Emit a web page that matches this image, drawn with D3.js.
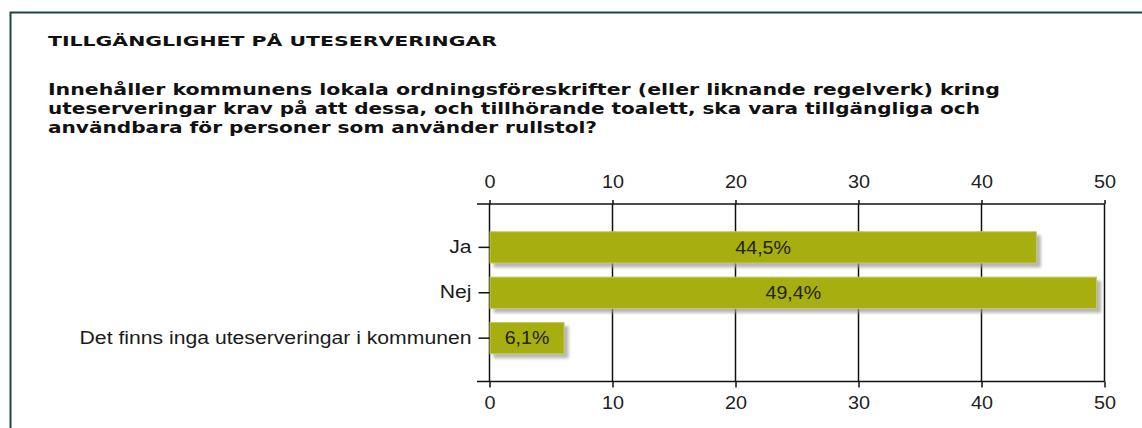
<!DOCTYPE html>
<html><head><meta charset="utf-8">
<script src="https://cdn.jsdelivr.net/npm/d3@7"></script>
<style>body{margin:0;background:#fff;}svg{display:block;}</style>
</head><body>
<svg id="c" width="1142" height="428"></svg>
<script>
const categories = ["Ja", "Nej", "Det finns inga uteserveringar i kommunen"];
const values = [44.5, 49.4, 6.1];
const valueLabels = ["44,5%", "49,4%", "6,1%"];
const tickValues = [0, 10, 20, 30, 40, 50];
const heading = "TILLGÄNGLIGHET PÅ UTESERVERINGAR";
const questionLines = [
  "Innehåller kommunens lokala ordningsföreskrifter (eller liknande regelverk) kring",
  "uteserveringar krav på att dessa, och tillhörande toalett, ska vara tillgängliga och",
  "användbara för personer som använder rullstol?"
];

const svg = d3.select("#c");
const defs = svg.append("defs");
const f = defs.append("filter").attr("id","sh").attr("x","-10%").attr("y","-30%").attr("width","130%").attr("height","180%");
f.append("feGaussianBlur").attr("stdDeviation",1.6);

// frame
svg.append("path").attr("d","M10.5,428 V12.5 H1142").attr("fill","none").attr("stroke","#1e4640").attr("stroke-width",2);

const tf = "Tahoma, 'DejaVu Sans Condensed', 'DejaVu Sans', sans-serif";
svg.append("text").attr("x",48).attr("y",46).attr("font-family",tf).attr("font-weight","bold")
  .attr("font-size",14).attr("fill","#111").text(heading)
  .attr("textLength",449).attr("lengthAdjust","spacingAndGlyphs");
const qWidths = [952, 932, 549];
questionLines.forEach((l,i)=>{
  svg.append("text").attr("x",48).attr("y",95+i*19).attr("font-family",tf).attr("font-weight","bold")
    .attr("font-size",15.5).attr("fill","#111").text(l)
    .attr("textLength",qWidths[i]).attr("lengthAdjust","spacingAndGlyphs");
});

const yTop = 204, yBot = 381.5;
const x = d3.scaleLinear().domain([0,50]).range([489.5,1104.5]);
const y = d3.scaleBand().domain(categories).range([yTop,yBot]).paddingInner(0.29).paddingOuter(0.6);
const af = "Arial, 'Liberation Sans', sans-serif";
function stretch(sel, k){
  sel.each(function(){
    const w = this.getComputedTextLength();
    d3.select(this).attr("textLength", w*k).attr("lengthAdjust","spacingAndGlyphs");
  });
}

// gridlines
svg.append("g").selectAll("line").data(tickValues).join("line")
  .attr("x1",d=>x(d)).attr("x2",d=>x(d)).attr("y1",yTop).attr("y2",yBot)
  .attr("stroke","#111").attr("stroke-width",1.5);

// bars
const bars = svg.append("g");
bars.selectAll("rect.s").data(values).join("rect").attr("class","s")
  .attr("x",x(0)+4).attr("y",(d,i)=>y(categories[i])+4)
  .attr("width",d=>x(d)-x(0)).attr("height",y.bandwidth())
  .attr("fill","#999").attr("opacity",0.7).attr("filter","url(#sh)");
bars.selectAll("rect.b").data(values).join("rect").attr("class","b")
  .attr("x",x(0)+0.5).attr("y",(d,i)=>y(categories[i])+0.5)
  .attr("width",d=>x(d)-x(0)-1).attr("height",y.bandwidth()-1)
  .attr("fill","#a6ae10").attr("stroke","#c4ca5a").attr("stroke-width",1);
bars.selectAll("text").data(values).join("text")
  .attr("x",d=>(x(0)+x(d))/2).attr("y",(d,i)=>y(categories[i])+y.bandwidth()/2)
  .attr("dy","0.36em").attr("text-anchor","middle").attr("font-family",af).attr("font-size",17.5)
  .attr("fill","#23230c").text((d,i)=>valueLabels[i])
  .call(stretch, 1.12);

// axes
const axTop = svg.append("g").attr("transform",`translate(0,${yTop})`)
  .call(d3.axisTop(x).tickValues(tickValues).tickSize(4).tickSizeOuter(0).tickPadding(12));
const axBot = svg.append("g").attr("transform",`translate(0,${yBot})`)
  .call(d3.axisBottom(x).tickValues(tickValues).tickSize(6).tickSizeOuter(0).tickPadding(9));
[axTop,axBot].forEach(g=>{
  g.select(".domain").remove();
  g.append("line").attr("x1",477).attr("x2",x(50)).attr("stroke","#111").attr("stroke-width",1.5);
  g.selectAll(".tick line").attr("stroke","#111").attr("stroke-width",1.5);
  g.selectAll(".tick text").attr("font-family",af).attr("font-size",18).attr("fill","#222")
    .call(stretch, 1.1);
});
const axLeft = svg.append("g").attr("transform",`translate(${x(0)},0)`)
  .call(d3.axisLeft(y).tickSize(11).tickPadding(7));
axLeft.select(".domain").remove();
axLeft.selectAll(".tick line").attr("stroke","#111").attr("stroke-width",1.5);
axLeft.selectAll(".tick text").attr("font-family",af).attr("font-size",17.5).attr("fill","#1a1a1a")
  .call(stretch, 1.21);
</script>
</body></html>
